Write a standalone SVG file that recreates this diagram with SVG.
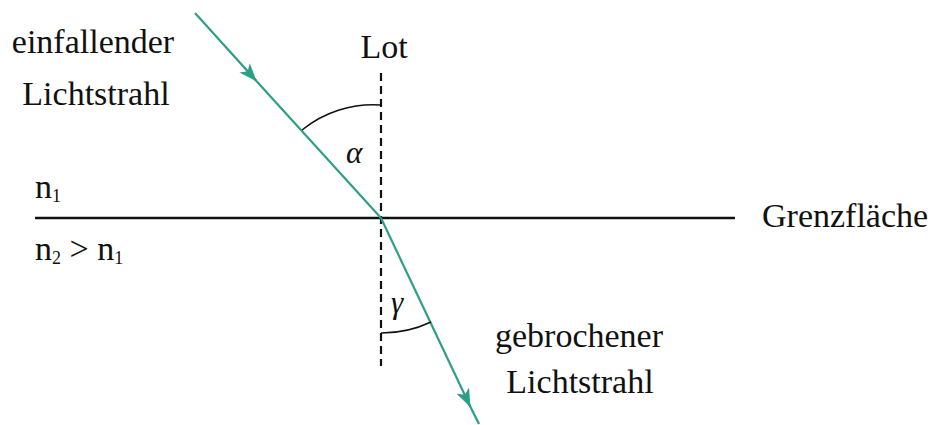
<svg xmlns="http://www.w3.org/2000/svg" width="933" height="425" viewBox="0 0 933 425">
<style>
text{font-family:"Liberation Serif","DejaVu Serif",serif;fill:#111;}
.lbl{font-size:34px;}
.sub{font-size:18px;}
.greek{font-size:31px;font-style:italic;}
.ray{stroke:#2f9e86;stroke-width:2.2;fill:none;}
.arc{stroke:#111;stroke-width:1.6;fill:none;}
</style>
<defs>
<marker id="ah" viewBox="0 0 18 14" refX="17" refY="7" markerWidth="18" markerHeight="14" markerUnits="userSpaceOnUse" orient="auto">
<path d="M0,0 L18,7 L0,14 L4.5,7 Z" fill="#2f9e86"/>
</marker>
</defs>
<g id="connectors">
<line id="grenzlinie" x1="35" y1="218" x2="735" y2="218" stroke="#111" stroke-width="2.5"/>
<line id="lot-line" x1="381" y1="73" x2="381" y2="366" stroke="#111" stroke-width="2.2" stroke-dasharray="8 5"/>
<line class="ray" x1="195" y1="13" x2="256" y2="80.5" marker-end="url(#ah)"/>
<line class="ray" x1="250" y1="74" x2="381" y2="218"/>
<line class="ray" x1="381" y1="218" x2="470" y2="406" marker-end="url(#ah)"/>
<line class="ray" x1="466" y1="398" x2="479" y2="424"/>
<path class="arc" d="M381,105 A113,113 0 0 0 302,130"/>
<path class="arc" d="M381,333 A115,115 0 0 0 431,322"/>
</g>
<g id="einfallender-lichtstrahl">
<text class="lbl" x="93" y="53" text-anchor="middle">einfallender</text>
<text class="lbl" x="96" y="105" text-anchor="middle">Lichtstrahl</text>
</g>
<g id="lot"><text class="lbl" x="384" y="58" text-anchor="middle">Lot</text></g>
<g id="alpha"><text class="greek" x="346" y="163">α</text></g>
<g id="gamma"><text class="greek" x="391" y="313">γ</text></g>
<g id="n1"><text class="lbl" x="35" y="198">n<tspan class="sub" dy="4">1</tspan></text></g>
<g id="n2"><text class="lbl" x="35" y="260">n<tspan class="sub" dy="4">2</tspan><tspan dy="-4"> &gt; n</tspan><tspan class="sub" dy="4">1</tspan></text></g>
<g id="grenzflaeche"><text class="lbl" x="762" y="227">Grenzfläche</text></g>
<g id="gebrochener-lichtstrahl">
<text class="lbl" x="579" y="347" text-anchor="middle">gebrochener</text>
<text class="lbl" x="580" y="393" text-anchor="middle">Lichtstrahl</text>
</g>
</svg>
